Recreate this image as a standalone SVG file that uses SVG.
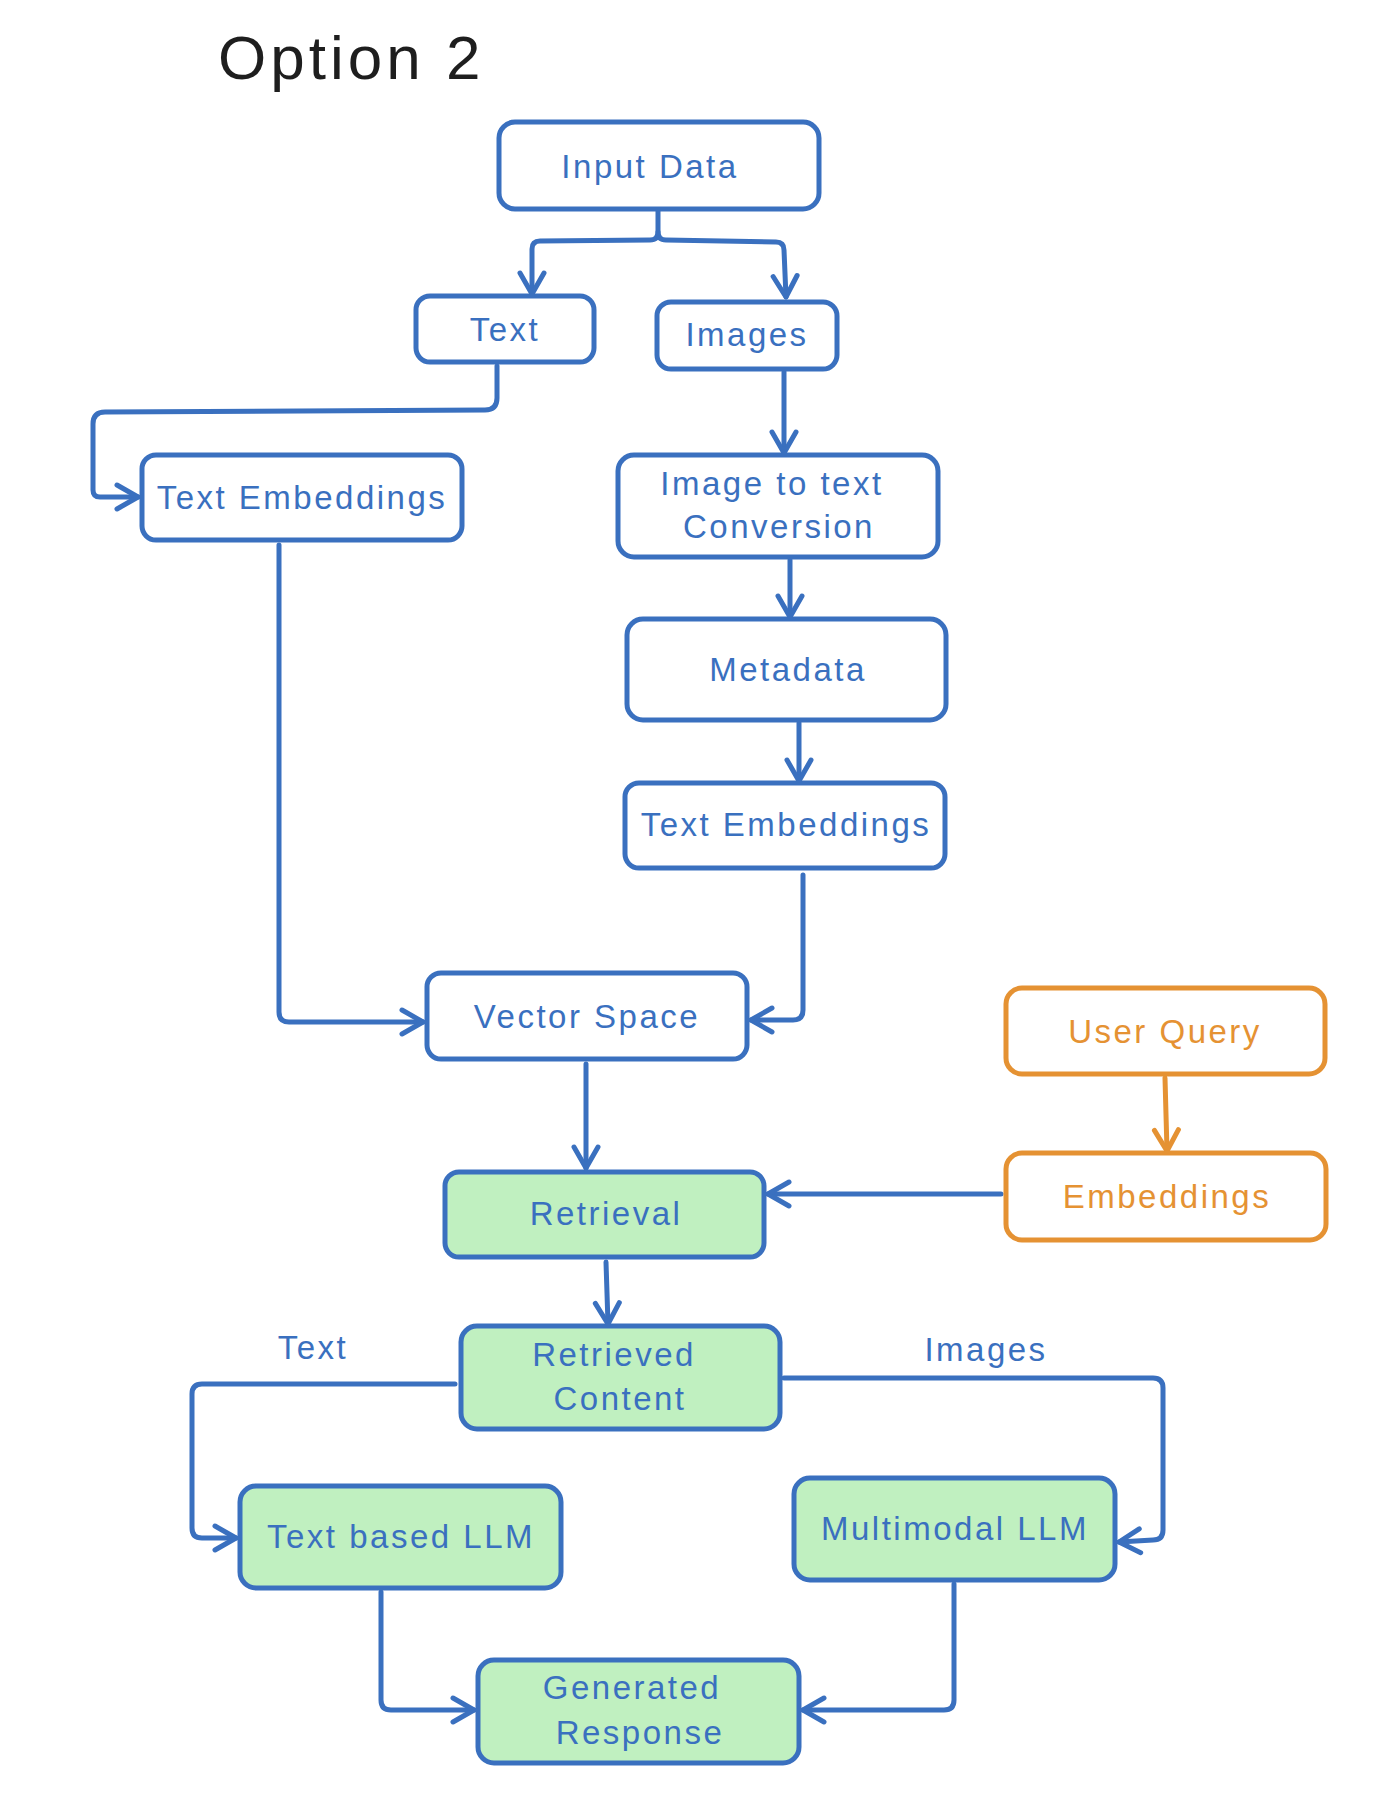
<svg xmlns="http://www.w3.org/2000/svg" width="1398" height="1820" viewBox="0 0 1398 1820">
<style>
.box{fill:#ffffff;stroke:#3a70bf;stroke-width:5}
.g{fill:#c0f0c0}
.o{stroke:#e59233}
.t{font-family:"Liberation Sans",Arial,sans-serif;font-size:33px;letter-spacing:2.5px;fill:#3a70bf;text-anchor:middle}
.to{fill:#e59233}
.c{fill:none;stroke:#3a70bf;stroke-width:5;stroke-linecap:round;stroke-linejoin:round}
.co{stroke:#e59233}
</style>
<defs>
<marker id="ab" markerUnits="userSpaceOnUse" markerWidth="30" markerHeight="30" viewBox="0 0 30 30" refX="26" refY="15" orient="auto">
<path d="M5,3 L26,15 L5,27" fill="none" stroke="#3a70bf" stroke-width="5" stroke-linecap="round" stroke-linejoin="round"/>
</marker>
<marker id="ao" markerUnits="userSpaceOnUse" markerWidth="30" markerHeight="30" viewBox="0 0 30 30" refX="26" refY="15" orient="auto">
<path d="M5,3 L26,15 L5,27" fill="none" stroke="#e59233" stroke-width="5" stroke-linecap="round" stroke-linejoin="round"/>
</marker>
</defs>
<rect width="1398" height="1820" fill="#ffffff"/>
<text x="218" y="79" font-family="Liberation Sans,Arial,sans-serif" font-size="62" letter-spacing="4" fill="#1e1e1e">Option 2</text>
<g id="connectors">
<path class="c" d="M658,209 L658,232 Q658,240 650,240 L540,241 Q532,241 532,249 L532,294" marker-end="url(#ab)"/>
<path class="c" d="M658,232 Q658,240 666,240 L776,242 Q784,242 784,250 L786,297" marker-end="url(#ab)"/>
<path class="c" d="M497,366 L497,398 Q497,410 485,410 L105,412 Q93,412 93,424 L93,490 Q93,497 100,497 L138,497" marker-end="url(#ab)"/>
<path class="c" d="M784,372 L784,453" marker-end="url(#ab)"/>
<path class="c" d="M790,560 L790,617" marker-end="url(#ab)"/>
<path class="c" d="M799,723 L799,781" marker-end="url(#ab)"/>
<path class="c" d="M279,545 L279,1012 Q279,1022 289,1022 L423,1022" marker-end="url(#ab)"/>
<path class="c" d="M803,875 L803,1010 Q803,1020 793,1020 L751,1020" marker-end="url(#ab)"/>
<path class="c" d="M586,1064 L586,1168" marker-end="url(#ab)"/>
<path class="c co" d="M1165,1078 L1167,1151" marker-end="url(#ao)"/>
<path class="c" d="M1001,1194 L768,1194" marker-end="url(#ab)"/>
<path class="c" d="M606,1262 L608,1324" marker-end="url(#ab)"/>
<path class="c" d="M455,1384 L202,1384 Q192,1384 192,1394 L192,1528 Q192,1538 202,1538 L236,1538" marker-end="url(#ab)"/>
<path class="c" d="M784,1378 L1153,1378 Q1163,1378 1163,1388 L1163,1530 Q1163,1540 1153,1540 L1119,1542" marker-end="url(#ab)"/>
<path class="c" d="M381,1592 L381,1700 Q381,1710 391,1710 L474,1710" marker-end="url(#ab)"/>
<path class="c" d="M954,1584 L954,1700 Q954,1710 944,1710 L803,1710" marker-end="url(#ab)"/>
<text class="t" x="313" y="1359">Text</text>
<text class="t" x="986" y="1361">Images</text>
</g>
<g id="input-data"><rect class="box" x="499" y="122" width="320" height="87" rx="16"/><text class="t" x="650" y="178">Input Data</text></g>
<g id="text"><rect class="box" x="416" y="296" width="178" height="66" rx="14"/><text class="t" x="505" y="341">Text</text></g>
<g id="images"><rect class="box" x="657" y="302" width="180" height="67" rx="14"/><text class="t" x="747" y="346">Images</text></g>
<g id="text-embeddings-1"><rect class="box" x="142" y="455" width="320" height="85" rx="14"/><text class="t" x="302" y="509">Text Embeddings</text></g>
<g id="image-to-text"><rect class="box" x="618" y="455" width="320" height="102" rx="16"/><text class="t" x="772" y="495">Image to text</text><text class="t" x="779" y="538">Conversion</text></g>
<g id="metadata"><rect class="box" x="627" y="619" width="319" height="101" rx="16"/><text class="t" x="788" y="681">Metadata</text></g>
<g id="text-embeddings-2"><rect class="box" x="625" y="783" width="320" height="85" rx="14"/><text class="t" x="786" y="836">Text Embeddings</text></g>
<g id="vector-space"><rect class="box" x="427" y="973" width="320" height="86" rx="14"/><text class="t" x="587" y="1028">Vector Space</text></g>
<g id="user-query"><rect class="box o" x="1006" y="988" width="319" height="86" rx="16"/><text class="t to" x="1165" y="1043">User Query</text></g>
<g id="embeddings"><rect class="box o" x="1006" y="1153" width="320" height="87" rx="16"/><text class="t to" x="1167" y="1208">Embeddings</text></g>
<g id="retrieval"><rect class="box g" x="445" y="1172" width="319" height="85" rx="14"/><text class="t" x="606" y="1225">Retrieval</text></g>
<g id="retrieved-content"><rect class="box g" x="461" y="1326" width="319" height="103" rx="16"/><text class="t" x="614" y="1366">Retrieved</text><text class="t" x="620" y="1410">Content</text></g>
<g id="text-based-llm"><rect class="box g" x="240" y="1486" width="321" height="102" rx="16"/><text class="t" x="401" y="1548">Text based LLM</text></g>
<g id="multimodal-llm"><rect class="box g" x="794" y="1478" width="321" height="102" rx="16"/><text class="t" x="955" y="1540">Multimodal LLM</text></g>
<g id="generated-response"><rect class="box g" x="478" y="1660" width="321" height="103" rx="16"/><text class="t" x="632" y="1699">Generated</text><text class="t" x="640" y="1744">Response</text></g>
</svg>
